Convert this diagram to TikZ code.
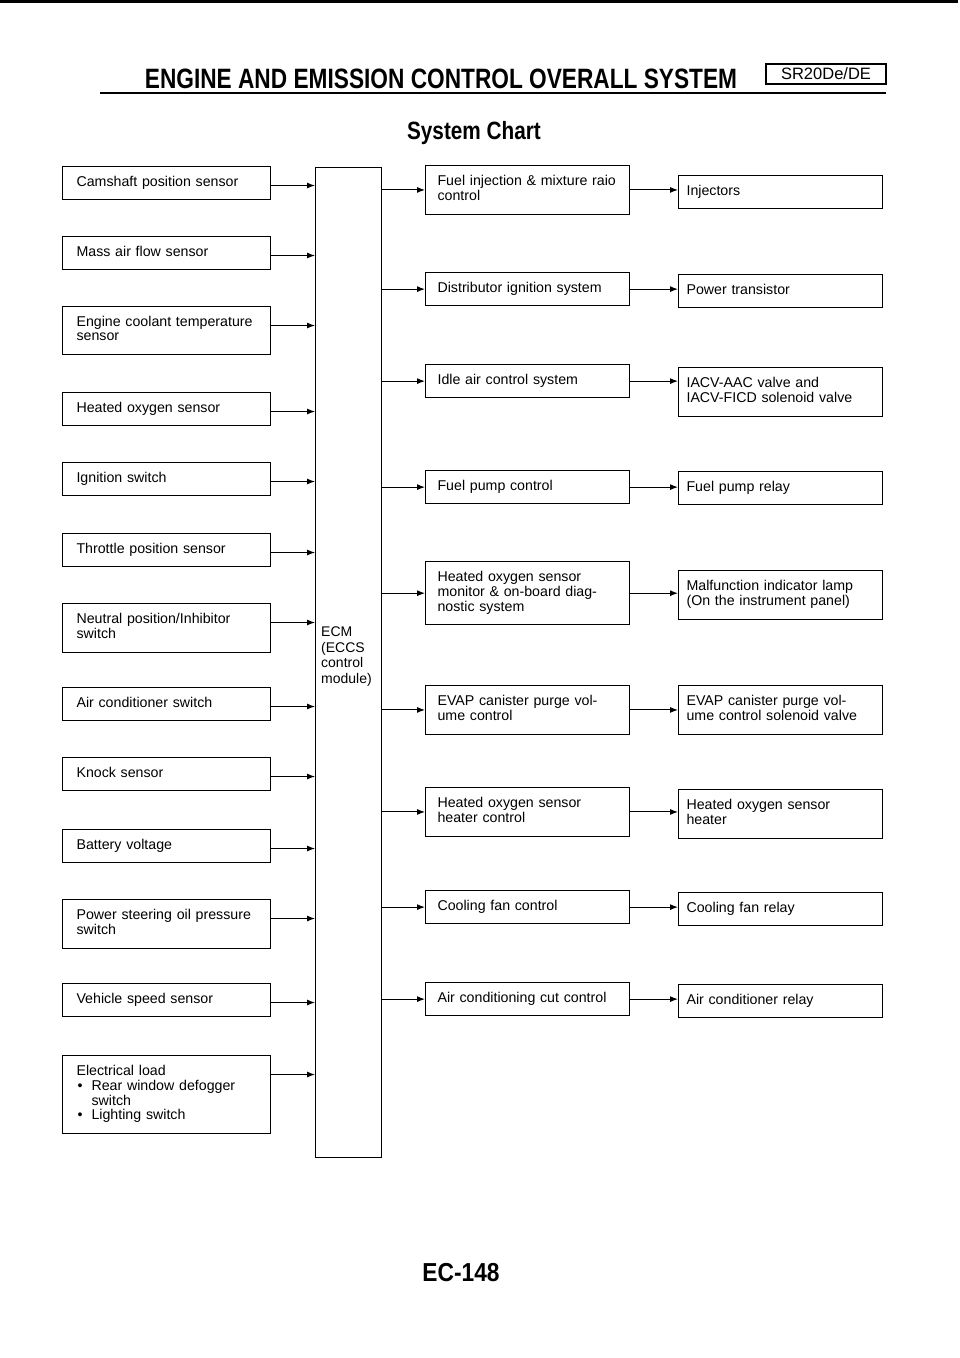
\documentclass[tikz,border=0pt]{standalone}
\usepackage{fontspec}
\usepackage{graphicx}
\setmainfont{Liberation Sans}
\usetikzlibrary{arrows.meta, calc}

\newcommand{\boxfont}{\fontsize{14.2}{14.5}\selectfont}
\newcommand{\dotitem}{\makebox[15pt][l]{\hspace*{1pt}\textbullet}}

\tikzset{
  chartbox/.style={draw, line width=1.1pt, anchor=north west, align=left,
    inner xsep=12pt, inner ysep=9.25pt, font=\boxfont,
    execute at begin node=\strut, execute at end node=\strut},
  inbox/.style={chartbox, inner xsep=14pt, text width=180pt},
  ctrlbox/.style={chartbox, text width=180pt},
  outbox/.style={chartbox, inner xsep=8pt, text width=188pt},
  feed/.style={line width=1pt, -{Latex[length=8pt,width=6pt]}}
}

\begin{document}
\begin{tikzpicture}[x=1pt, y=-1pt]
  \useasboundingbox (0,0) rectangle (960,1358);
  \fill[white] (0,0) rectangle (960,1358);

  % page heading
  \draw[line width=3pt] (0,1.5) -- (958,1.5);
  \node[anchor=base, font=\fontsize{28}{30}\selectfont\bfseries] (title) at (441,88)
    {\scalebox{0.81}[1]{ENGINE AND EMISSION CONTROL OVERALL SYSTEM}};
  \node[draw, line width=1.5pt, minimum width=120pt, minimum height=20pt, inner sep=0pt,
    font=\fontsize{16.5}{18}\selectfont] (engine) at (826,74) {SR20De/DE};
  \draw[line width=2.5pt] (100,93) -- (886,93);
  \node[anchor=base, font=\fontsize{25}{27}\selectfont\bfseries] (chart) at (474,139)
    {\scalebox{0.83}[1]{System Chart}};

  % control module
  \node[draw, line width=1.1pt, anchor=north west, minimum width=66pt, minimum height=990pt,
    inner sep=0pt] (ecm) at (315,167) {};
  \node[anchor=north west, align=left, inner sep=0pt, font=\fontsize{14}{15.5}\selectfont]
    (ecmtext) at (321,627) {ECM\\(ECCS\\control\\module)};

  % input sensors and switches
  \foreach \s/\top/\txt in {
      cam/166/Camshaft position sensor,
      maf/236/Mass air flow sensor,
      ect/306/{Engine coolant temperature\\sensor},
      hos/392/Heated oxygen sensor,
      ign/462/Ignition switch,
      tps/533/Throttle position sensor,
      nps/603/{Neutral position/Inhibitor\\switch},
      acs/687/Air conditioner switch,
      kns/757/Knock sensor,
      bat/829/Battery voltage,
      pst/899/{Power steering oil pressure\\switch},
      vss/983/Vehicle speed sensor,
      eld/1055/{Electrical load\\\dotitem Rear window defogger\\\hspace*{15pt}switch\\\dotitem Lighting switch}} {
    \node[inbox] (\s) at (62,\top) {\txt};
    \draw[feed] ([yshift=-19.5pt]\s.north east) -- ([yshift=-19.5pt]\s.north east -| ecm.west);
  }

  % control systems
  \foreach \m/\top/\txt in {
      fic/165/{Fuel injection \& mixture raio\\control},
      dis/272/Distributor ignition system,
      iac/364/Idle air control system,
      fpc/470/Fuel pump control,
      mon/561/{Heated oxygen sensor\\monitor \& on-board diag-\\nostic system},
      evc/685/{EVAP canister purge vol-\\ume control},
      htc/787/{Heated oxygen sensor\\heater control},
      cfc/890/Cooling fan control,
      acc/982/Air conditioning cut control} {
    \node[ctrlbox] (\m) at (425,\top) {\txt};
    \draw[feed] (ecm.east |- \m.west) -- (\m.west);
  }

  % actuators
  \foreach \o/\top/\txt in {
      inj/175/Injectors,
      ptr/274/Power transistor,
      iacv/367/{IACV-AAC valve and\\IACV-FICD solenoid valve},
      fpr/471/Fuel pump relay,
      mil/570/{Malfunction indicator lamp\\(On the instrument panel)},
      evs/685/{EVAP canister purge vol-\\ume control solenoid valve},
      hth/789/{Heated oxygen sensor\\heater},
      cfr/892/Cooling fan relay,
      acr/984/Air conditioner relay} {
    \node[outbox] (\o) at (678,\top) {\txt};
  }

  \foreach \m/\o in {fic/inj, dis/ptr, iac/iacv, fpc/fpr, mon/mil, evc/evs, htc/hth, cfc/cfr, acc/acr}
    \draw[feed] (\m.east) -- (\m.east -| \o.west);

  % page number
  \node[anchor=base, font=\fontsize{26}{28}\selectfont\bfseries] (page) at (461,1281)
    {\scalebox{0.875}[1]{EC-148}};
\end{tikzpicture}
\end{document}
